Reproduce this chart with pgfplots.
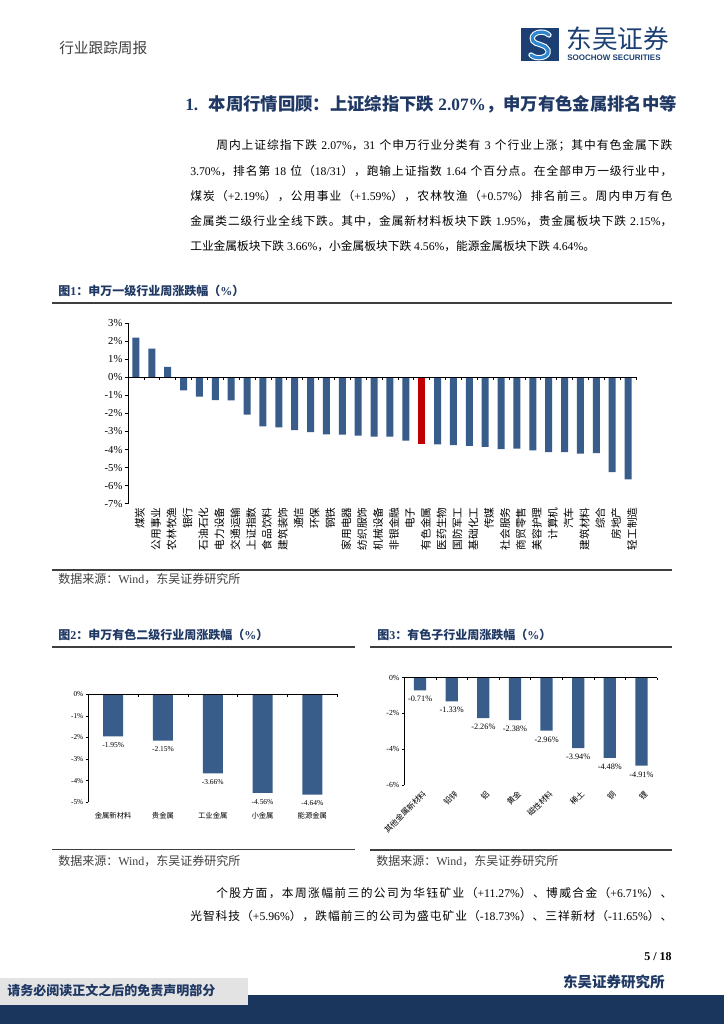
\documentclass[border=0pt]{standalone}
\usepackage{fontspec}
\setmainfont{Liberation Serif}
\newfontfamily\cjk{Noto Sans CJK SC}
\newfontfamily\lsans{Liberation Sans}
\usepackage{pgfplots}
\pgfplotsset{compat=1.18}
\definecolor{barblue}{HTML}{385D8A}
\definecolor{barred}{HTML}{C00000}
\definecolor{navy}{HTML}{1F3864}
\definecolor{logonavy}{HTML}{1B3F73}
\definecolor{logoblue}{HTML}{2E86D1}
\definecolor{footnavy}{HTML}{1B365D}
\definecolor{rulegray}{HTML}{3F3F3F}
\definecolor{headgray}{HTML}{404040}
% automatic CJK font switching
\XeTeXinterchartokenstate=1
\newXeTeXintercharclass\CJKcls
\newcount\cjkc
\cjkc="4E00 \loop\ifnum\cjkc<"A000 \XeTeXcharclass\cjkc=\CJKcls \advance\cjkc by 1 \repeat
\cjkc="3000 \loop\ifnum\cjkc<"3040 \XeTeXcharclass\cjkc=\CJKcls \advance\cjkc by 1 \repeat
\cjkc="FF00 \loop\ifnum\cjkc<"FFF0 \XeTeXcharclass\cjkc=\CJKcls \advance\cjkc by 1 \repeat
\XeTeXinterchartoks 0 \CJKcls = {\cjk}
\XeTeXinterchartoks 4095 \CJKcls = {\cjk}
\XeTeXinterchartoks \CJKcls 0 = {\rmfamily}
\XeTeXinterchartoks \CJKcls 4095 = {\rmfamily}
\XeTeXinterchartoks \CJKcls \CJKcls = {\hskip0pt plus 0.8pt\relax}
\begin{document}
\begin{tikzpicture}
\path[use as bounding box, fill=white] (0pt,0pt) rectangle (543pt,-768pt);

% ---------- Figure 1 ----------
\begin{axis}[
 at={(96pt,-377.8pt)}, anchor=south west, scale only axis,
 width=381pt, height=135.5pt,
 xmin=-0.5, xmax=31.5, ymin=-7, ymax=3,
 axis y line*=left, axis x line*=bottom,
 x axis line style={draw=none},
 y axis line style={line width=0.6pt},
 xtick={0,...,31},
 xticklabels={煤炭,公用事业,农林牧渔,银行,石油石化,电力设备,交通运输,上证指数,食品饮料,建筑装饰,通信,环保,钢铁,家用电器,纺织服饰,机械设备,非银金融,电子,有色金属,医药生物,国防军工,基础化工,传媒,社会服务,商贸零售,美容护理,计算机,汽车,建筑材料,综合,房地产,轻工制造},
 major x tick style={draw=none},
 xticklabel style={rotate=90, anchor=east, inner sep=0pt, yshift=-3pt, font=\fontsize{8}{8}\selectfont},
 ytick={-7,-6,-5,-4,-3,-2,-1,0,1,2,3},
 yticklabels={-7\%,-6\%,-5\%,-4\%,-3\%,-2\%,-1\%,0\%,1\%,2\%,3\%},
 yticklabel style={font=\fontsize{8}{8}\selectfont, inner sep=1.5pt},
 y tick style={line width=0.5pt, black},
 tick align=outside, major tick length=2.5pt,
 ybar, clip=false,
]
\addplot[fill=barblue, draw=none, bar width=5.25pt, bar shift=0pt] coordinates {
 (0,2.19) (1,1.59) (2,0.57) (3,-0.73) (4,-1.07) (5,-1.27) (6,-1.28) (7,-2.07)
 (8,-2.72) (9,-2.78) (10,-2.92) (11,-3.03) (12,-3.16) (13,-3.17) (14,-3.23)
 (15,-3.28) (16,-3.29) (17,-3.50) (19,-3.72) (20,-3.75) (21,-3.80) (22,-3.85)
 (23,-3.98) (24,-3.95) (25,-4.04) (26,-4.14) (27,-4.15) (28,-4.22) (29,-4.20)
 (30,-5.25) (31,-5.65)};
\addplot[fill=barred, draw=none, bar width=5.25pt, bar shift=0pt] coordinates {(18,-3.70)};
\draw[line width=0.6pt] (axis cs:-0.5,0) -- (axis cs:31.5,0);
\pgfplotsinvokeforeach{-0.5,0.5,...,31.5}{\draw[line width=0.5pt] (axis cs:#1,0) -- ++(0pt,-2.2pt);}
\end{axis}

% ---------- Figure 2 ----------
\begin{axis}[
 at={(66.2pt,-601.7pt)}, anchor=south west, scale only axis,
 width=186.75pt, height=81pt,
 xmin=-0.5, xmax=4.5, ymin=-5, ymax=0,
 axis y line*=left, axis x line*=bottom,
 x axis line style={draw=none},
 y axis line style={line width=0.5pt},
 xtick={0,...,4},
 xticklabels={金属新材料,贵金属,工业金属,小金属,能源金属},
 major x tick style={draw=none},
 xticklabel style={inner sep=0pt, yshift=-5pt, font=\fontsize{5.5}{6}\selectfont},
 ytick={-5,-4,-3,-2,-1,0},
 yticklabels={-5\%,-4\%,-3\%,-2\%,-1\%,0\%},
 yticklabel style={font=\fontsize{5.5}{6}\selectfont, inner sep=1.5pt},
 y tick style={line width=0.5pt, black},
 tick align=outside, major tick length=2pt,
 ybar, clip=false,
 /pgf/number format/assume math mode=true,
 nodes near coords={\pgfmathprintnumber[fixed,fixed zerofill,precision=2]{\pgfplotspointmeta}\%},
 nodes near coords align={below},
 every node near coord/.append style={font=\fontsize{5.6}{6}\selectfont, inner sep=0pt, yshift=-4.5pt, black},
]
\addplot[fill=barblue, draw=none, bar width=15pt, bar shift=0pt] coordinates {
 (0,-1.95) (1,-2.15) (2,-3.66) (3,-4.56) (4,-4.64)};
\draw[line width=0.5pt] (axis cs:-0.5,0) -- (axis cs:4.5,0);
\pgfplotsinvokeforeach{-0.5,0.5,...,4.5}{\draw[line width=0.5pt] (axis cs:#1,0) -- ++(0pt,-2pt);}
\end{axis}

% ---------- Figure 3 ----------
\begin{axis}[
 at={(303.2pt,-588.75pt)}, anchor=south west, scale only axis,
 width=189.75pt, height=80.5pt,
 xmin=-0.5, xmax=7.5, ymin=-6, ymax=0,
 axis y line*=left, axis x line*=bottom,
 x axis line style={draw=none},
 y axis line style={line width=0.5pt},
 xtick={0,...,7},
 xticklabels={其他金属新材料,铅锌,铝,黄金,磁性材料,稀土,铜,锂},
 major x tick style={draw=none},
 xticklabel style={rotate=45, anchor=east, inner sep=0pt, yshift=-5pt, font=\fontsize{5.9}{6}\selectfont},
 ytick={-6,-4,-2,0},
 yticklabels={-6\%,-4\%,-2\%,0\%},
 yticklabel style={font=\fontsize{5.8}{6}\selectfont, inner sep=1.5pt},
 y tick style={line width=0.5pt, black},
 tick align=outside, major tick length=2pt,
 ybar, clip=false,
 /pgf/number format/assume math mode=true,
 nodes near coords={\pgfmathprintnumber[fixed,fixed zerofill,precision=2]{\pgfplotspointmeta}\%},
 nodes near coords align={below},
 every node near coord/.append style={font=\fontsize{6.2}{7}\selectfont, inner sep=0pt, yshift=-4.3pt, black},
]
\addplot[fill=barblue, draw=none, bar width=9.2pt, bar shift=0pt] coordinates {
 (0,-0.71) (1,-1.33) (2,-2.26) (3,-2.38) (4,-2.96) (5,-3.94) (6,-4.48) (7,-4.91)};
\draw[line width=0.5pt] (axis cs:-0.5,0) -- (axis cs:7.5,0);
\pgfplotsinvokeforeach{-0.5,0.5,...,7.5}{\draw[line width=0.5pt] (axis cs:#1,0) -- ++(0pt,-2pt);}
\end{axis}

% ---------- page text (pixel units) ----------
\begin{scope}[x=0.75pt,y=-0.75pt]
% header
\node[anchor=west, inner sep=0pt, text=headgray, font=\fontsize{11}{13}\selectfont] at (59,48) {行业跟踪周报};
% logo
\fill[logonavy] (521,28) rectangle (559,61);
\draw[white, line width=4pt, line cap=round] (549,35) .. controls (543,29) and (529,33) .. (533,41) .. controls (535,45) and (546,44) .. (548,50) .. controls (550,58) and (536,60) .. (531,55);
\draw[logoblue, line width=2.4pt, line cap=round] (549,35) .. controls (543,29) and (529,33) .. (533,41) .. controls (535,45) and (546,44) .. (548,50) .. controls (550,58) and (536,60) .. (531,55);
\node[anchor=west, inner sep=0pt, text=logonavy, font=\fontsize{19.3}{20}\selectfont] at (566,39) {东吴证券};
\node[anchor=west, inner sep=0pt, text=logonavy, font=\lsans\bfseries\fontsize{6}{6}\selectfont] at (567,58) {SOOCHOW SECURITIES};
% heading
\node[anchor=west, inner sep=0pt, text=navy, font=\bfseries\fontsize{13}{15}\selectfont] at (185,104) {1.\hspace{0.6em}本周行情回顾：上证综指下跌 2.07\%，申万有色金属排名中等};
% paragraph
\node[anchor=west, inner sep=0pt, font=\fontsize{8.8}{11}\selectfont] at (216,145) {\makebox[342pt][s]{周内上证综指下跌 2.07\%，31 个申万行业分类有 3 个行业上涨；其中有色金属下跌}};
\node[anchor=west, inner sep=0pt, font=\fontsize{8.8}{11}\selectfont] at (190,171) {\makebox[361.5pt][s]{3.70\%，排名第 18 位（18/31），跑输上证指数 1.64 个百分点。在全部申万一级行业中，}};
\node[anchor=west, inner sep=0pt, font=\fontsize{8.8}{11}\selectfont] at (190,196) {\makebox[361.5pt][s]{煤炭（+2.19\%），公用事业（+1.59\%），农林牧渔（+0.57\%）排名前三。周内申万有色}};
\node[anchor=west, inner sep=0pt, font=\fontsize{8.8}{11}\selectfont] at (190,221) {\makebox[361.5pt][s]{金属类二级行业全线下跌。其中，金属新材料板块下跌 1.95\%，贵金属板块下跌 2.15\%，}};
\node[anchor=west, inner sep=0pt, font=\fontsize{8.8}{11}\selectfont] at (190,246) {工业金属板块下跌 3.66\%，小金属板块下跌 4.56\%，能源金属板块下跌 4.64\%。};
% figure 1 frame
\node[anchor=west, inner sep=0pt, text=navy, font=\bfseries\fontsize{9}{10}\selectfont] at (58,291) {图1：申万一级行业周涨跌幅（\%）};
\draw[rulegray, line width=1.3pt] (52,303) -- (672,303);
\draw[rulegray, line width=1.3pt] (52,570) -- (672,570);
\node[anchor=west, inner sep=0pt, text=headgray, font=\fontsize{9}{10}\selectfont] at (58,579) {数据来源：Wind，东吴证券研究所};
% figure 2 frame
\node[anchor=west, inner sep=0pt, text=navy, font=\bfseries\fontsize{9}{10}\selectfont] at (58,635) {图2：申万有色二级行业周涨跌幅（\%）};
\draw[rulegray, line width=1.3pt] (52,647) -- (355,647);
\draw[rulegray, line width=1.3pt] (52,849.5) -- (355,849.5);
\node[anchor=west, inner sep=0pt, text=headgray, font=\fontsize{9}{10}\selectfont] at (58,861) {数据来源：Wind，东吴证券研究所};
% figure 3 frame
\node[anchor=west, inner sep=0pt, text=navy, font=\bfseries\fontsize{9}{10}\selectfont] at (377,635) {图3：有色子行业周涨跌幅（\%）};
\draw[rulegray, line width=1.3pt] (370,647) -- (672,647);
\draw[rulegray, line width=1.3pt] (370,850) -- (672,850);
\node[anchor=west, inner sep=0pt, text=headgray, font=\fontsize{9}{10}\selectfont] at (376,861) {数据来源：Wind，东吴证券研究所};
% bottom text
\node[anchor=west, inner sep=0pt, font=\fontsize{8.8}{11}\selectfont] at (216,893) {\makebox[342pt][s]{个股方面，本周涨幅前三的公司为华钰矿业（+11.27\%）、博威合金（+6.71\%）、}};
\node[anchor=west, inner sep=0pt, font=\fontsize{8.8}{11}\selectfont] at (190,916) {\makebox[361.5pt][s]{光智科技（+5.96\%），跌幅前三的公司为盛屯矿业（-18.73\%）、三祥新材（-11.65\%）、}};
\node[anchor=east, inner sep=0pt, font=\bfseries\fontsize{9}{10}\selectfont] at (672,957) {5 / 18};
\node[anchor=east, inner sep=0pt, text=navy, font=\bfseries\fontsize{10.9}{12}\selectfont] at (665,982) {东吴证券研究所};
% footer
\fill[footnavy] (0,995) rectangle (724,1024);
\fill[gray!22] (0,978) rectangle (248,1005);
\node[anchor=west, inner sep=0pt, text=navy, font=\bfseries\fontsize{9.75}{11}\selectfont] at (7,990) {请务必阅读正文之后的免责声明部分};
\end{scope}
\end{tikzpicture}
\end{document}
